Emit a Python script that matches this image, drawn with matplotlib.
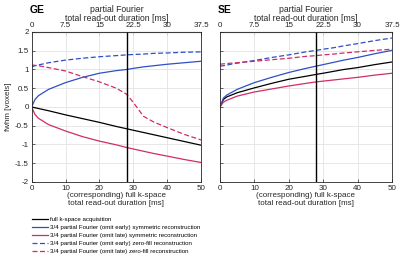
import matplotlib
matplotlib.use("Agg")
import matplotlib.pyplot as plt

plt.rcParams["font.family"] = ["Liberation Sans", "DejaVu Sans"]

# full k-space read-out duration [ms]
x = [0, 1, 2, 5, 10, 15, 20, 25, 28, 30, 33, 36, 40, 45, 50]

# GE panel
ge_full = [0, -0.02, -0.04, -0.10, -0.21, -0.31, -0.41, -0.52, -0.58, -0.62, -0.68, -0.74, -0.82, -0.92, -1.02]
ge_early_sym = [0, 0.2, 0.3, 0.47, 0.65, 0.79, 0.90, 0.97, 1.0, 1.03, 1.07, 1.10, 1.14, 1.18, 1.22]
ge_late_sym = [0, -0.2, -0.3, -0.47, -0.64, -0.79, -0.91, -1.01, -1.08, -1.12, -1.18, -1.24, -1.31, -1.40, -1.48]
ge_early_zf = [1.07, 1.10, 1.12, 1.18, 1.25, 1.30, 1.34, 1.37, 1.39, 1.40, 1.41, 1.43, 1.44, 1.46, 1.47]
ge_late_zf = [1.12, 1.11, 1.10, 1.05, 0.96, 0.81, 0.67, 0.50, 0.34, 0.12, -0.25, -0.40, -0.55, -0.73, -0.88]

# SE panel
se_full = [0, 0.2, 0.27, 0.38, 0.51, 0.63, 0.74, 0.82, 0.87, 0.90, 0.95, 1.00, 1.05, 1.13, 1.20]
se_early_sym = [0, 0.24, 0.32, 0.47, 0.65, 0.79, 0.92, 1.03, 1.09, 1.13, 1.19, 1.25, 1.32, 1.42, 1.51]
se_late_sym = [0, 0.13, 0.18, 0.29, 0.40, 0.48, 0.56, 0.63, 0.67, 0.69, 0.72, 0.75, 0.79, 0.85, 0.90]
se_early_zf = [1.09, 1.10, 1.12, 1.17, 1.24, 1.32, 1.39, 1.47, 1.51, 1.54, 1.58, 1.63, 1.69, 1.77, 1.84]
se_late_zf = [1.14, 1.15, 1.16, 1.18, 1.22, 1.26, 1.30, 1.35, 1.37, 1.39, 1.41, 1.44, 1.47, 1.51, 1.54]

labels = [
    "full k-space acquisition",
    "3/4 partial Fourier (omit early) symmetric reconstruction",
    "3/4 partial Fourier (omit late) symmetric reconstruction",
    "3/4 partial Fourier (omit early) zero-fill reconstruction",
    "3/4 partial Fourier (omit late) zero-fill reconstruction",
]
x_ticks = [0, 10, 20, 30, 40, 50]
top_ticks = [0, 7.5, 15, 22.5, 30, 37.5]
top_labels = ["0", "7.5", "15", "22.5", "30", "37.5"]
y_ticks = [-2, -1.5, -1, -0.5, 0, 0.5, 1, 1.5, 2]
y_labels = ["-2", "-1.5", "-1", "-0.5", "0", "0.5", "1", "1.5", "2"]
marker_x = 28

BLUE = "#2f4fc6"
RED = "#d02c6a"
GRID = "#e3e3e3"
TXT = "#262626"

fig = plt.figure(figsize=(4, 2.6), dpi=100)
ax1 = fig.add_axes([0.079, 0.30, 0.424, 0.577])
ax2 = fig.add_axes([0.55, 0.30, 0.43, 0.577])

panels = [
    (ax1, "GE", [ge_full, ge_early_sym, ge_late_sym, ge_early_zf, ge_late_zf]),
    (ax2, "SE", [se_full, se_early_sym, se_late_sym, se_early_zf, se_late_zf]),
]
styles = [("black", "-"), (BLUE, "-"), (RED, "-"), (BLUE, "--"), (RED, "--")]

handles = []
for ax, name, series in panels:
    handles = []
    for ys, (c, ls), lab in zip(series, styles, labels):
        h, = ax.plot(x, ys, color=c, ls=ls, lw=0.9, label=lab)
        if ls == "--":
            h.set_dashes((4, 2))
        handles.append(h)
    ax.axvline(marker_x, color="black", lw=1.0)
    ax.set_xlim(0, 50)
    ax.set_ylim(-2, 2)
    ax.set_xticks(x_ticks)
    ax.set_yticks(y_ticks)
    ax.grid(True, color=GRID, lw=0.6)
    ax.set_axisbelow(True)
    ax.tick_params(direction="in", length=2, width=0.5, labelsize=5.8, pad=2, colors=TXT)
    for s in ax.spines.values():
        s.set_linewidth(0.6)
        s.set_color(TXT)
    ax.set_xlabel("(corresponding) full k-space\ntotal read-out duration [ms]", fontsize=5.8,
                  labelpad=0.5, linespacing=1.1, color=TXT)

    top = ax.secondary_xaxis("top", functions=(lambda v: v * 0.75, lambda v: v / 0.75))
    top.set_xticks(top_ticks)
    top.set_xticklabels(top_labels)
    top.tick_params(direction="in", length=2, width=0.5, labelsize=5.8, pad=2, colors=TXT)
    top.set_xlabel("partial Fourier\ntotal read-out duration [ms]", fontsize=6.2, labelpad=1,
                   linespacing=1.0, color=TXT)

    bb = ax.get_position()
    fig.text(bb.x0 - 0.005, 1 - 10 / 260, name, fontsize=7.5, fontweight="bold",
             ha="left", va="center")

ax1.set_yticklabels(y_labels)
ax2.set_yticklabels([])
ax1.set_ylabel("fwhm [voxels]", fontsize=5.8, labelpad=2, color=TXT)

fig.legend(handles=handles, labels=labels, loc="upper left", bbox_to_anchor=(0.08, 0.165),
           frameon=False, fontsize=4.4, handlelength=2.6, handletextpad=0.3,
           labelspacing=0.45, borderpad=0, borderaxespad=0)

fig.savefig("out.png", dpi=100)
